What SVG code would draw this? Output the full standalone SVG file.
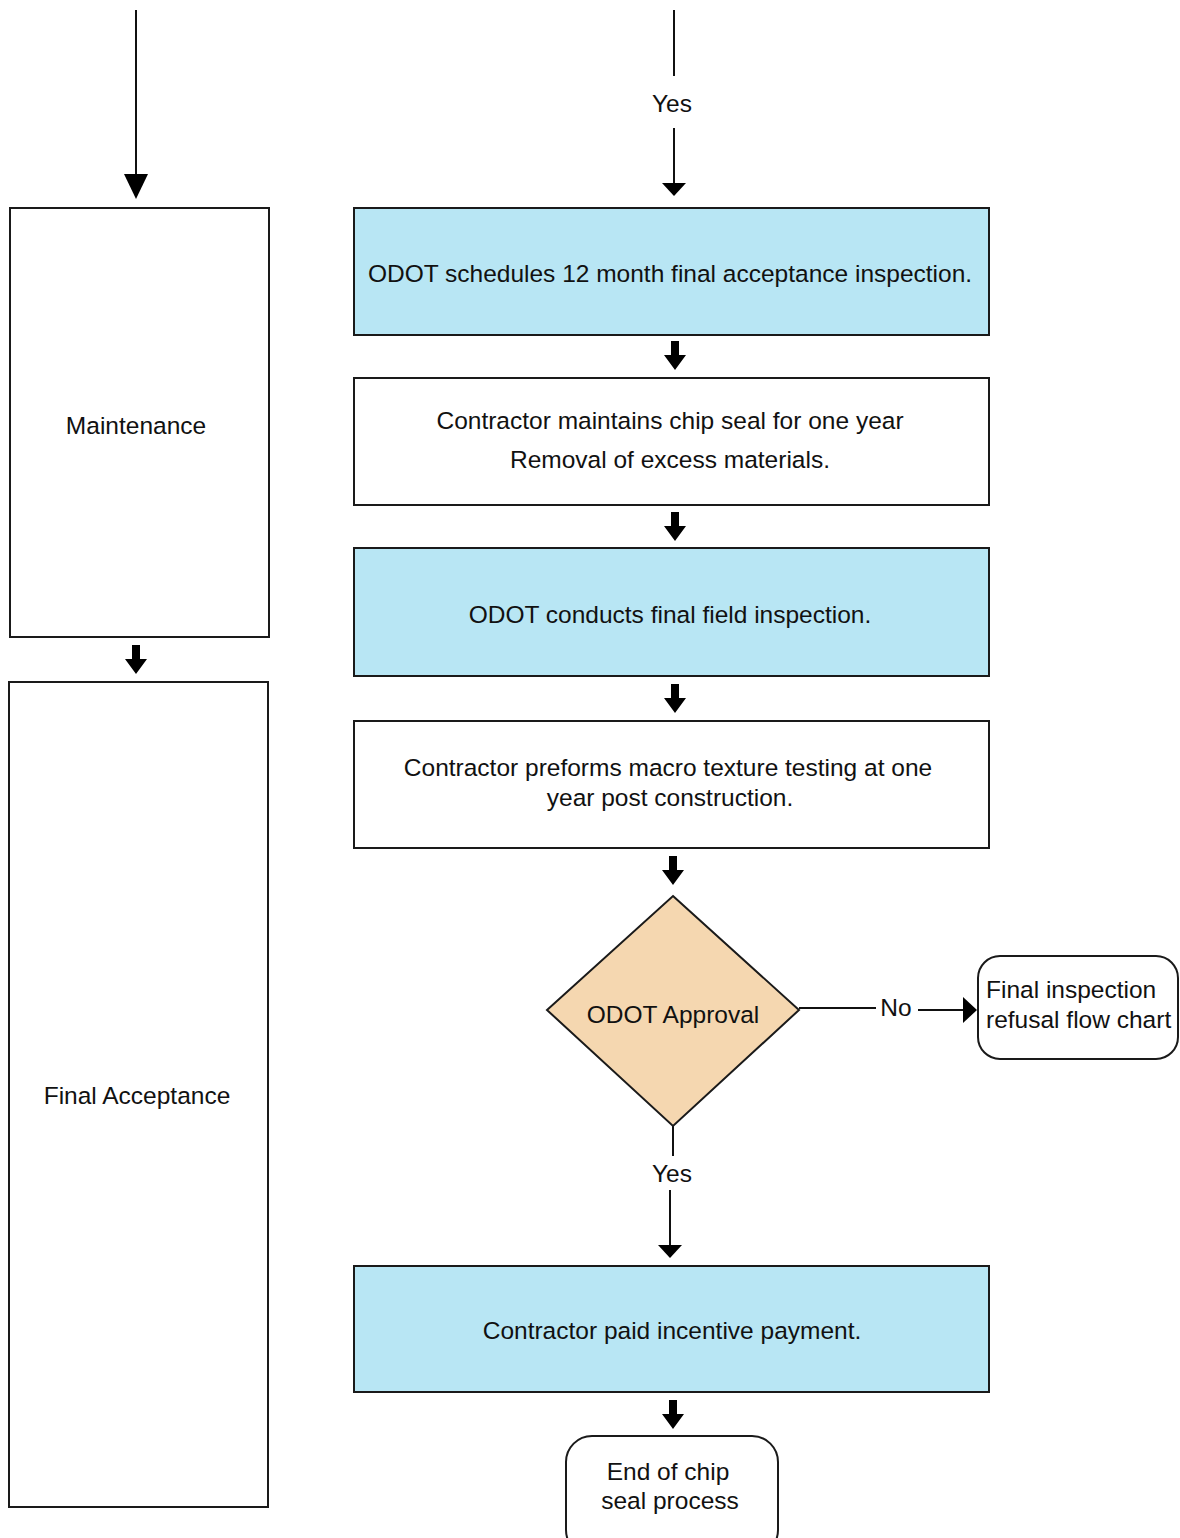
<svg xmlns="http://www.w3.org/2000/svg" width="1180" height="1538" viewBox="0 0 1180 1538">
<defs>
<style>
.box{fill:#ffffff;stroke:#1a1a1a;stroke-width:2}
.blue{fill:#b8e6f4;stroke:#1a1a1a;stroke-width:2}
.dia{fill:#f5d7b0;stroke:#1a1a1a;stroke-width:2}
.t{font-family:"Liberation Sans",Arial,sans-serif;font-size:24.5px;fill:#111;text-anchor:middle}
.tl{font-family:"Liberation Sans",Arial,sans-serif;font-size:24.5px;fill:#111;text-anchor:start}
.ln{stroke:#111;stroke-width:2;fill:none}
.ah{fill:#000}
</style>
<path id="blk" d="M-4,0 H4 V14 H11 L0,29 L-11,14 H-4 Z" class="ah"/>
</defs>
<rect width="1180" height="1538" fill="#ffffff"/>

<g id="connectors">
  <line class="ln" x1="136" y1="10" x2="136" y2="176"/>
  <path class="ah" d="M124,174 L148,174 L136,199 Z"/>
  <line class="ln" x1="674" y1="10" x2="674" y2="76"/>
  <text class="t" x="672" y="112">Yes</text>
  <line class="ln" x1="674" y1="128" x2="674" y2="185"/>
  <path class="ah" d="M662,183 L686,183 L674,196 Z"/>
  <use href="#blk" x="675" y="341"/>
  <use href="#blk" x="675" y="512"/>
  <use href="#blk" x="675" y="684"/>
  <use href="#blk" x="673" y="856"/>
  <use href="#blk" x="673" y="1400"/>
  <use href="#blk" x="136" y="645"/>
  <line class="ln" x1="799" y1="1008" x2="876" y2="1008"/>
  <text class="t" x="896" y="1016">No</text>
  <line class="ln" x1="918" y1="1010" x2="965" y2="1010"/>
  <path class="ah" d="M963,997 L977,1010 L963,1023 Z"/>
  <line class="ln" x1="673" y1="1126" x2="673" y2="1156"/>
  <text class="t" x="672" y="1182">Yes</text>
  <line class="ln" x1="670" y1="1190" x2="670" y2="1247"/>
  <path class="ah" d="M658,1245 L682,1245 L670,1258 Z"/>
</g>

<g id="maintenance">
  <rect class="box" x="10" y="208" width="259" height="429"/>
  <text class="t" x="136" y="434">Maintenance</text>
</g>
<g id="final-acceptance">
  <rect class="box" x="9" y="682" width="259" height="825"/>
  <text class="t" x="137" y="1104">Final Acceptance</text>
</g>

<g id="schedule">
  <rect class="blue" x="354" y="208" width="635" height="127"/>
  <text class="t" x="670" y="282">ODOT schedules 12 month final acceptance inspection.</text>
</g>
<g id="maintain">
  <rect class="box" x="354" y="378" width="635" height="127"/>
  <text class="t" x="670" y="429">Contractor maintains chip seal for one year</text>
  <text class="t" x="670" y="468">Removal of excess materials.</text>
</g>
<g id="inspection">
  <rect class="blue" x="354" y="548" width="635" height="128"/>
  <text class="t" x="670" y="623">ODOT conducts final field inspection.</text>
</g>
<g id="macro">
  <rect class="box" x="354" y="721" width="635" height="127"/>
  <text class="t" x="668" y="776">Contractor preforms macro texture testing at one</text>
  <text class="t" x="670" y="806">year post construction.</text>
</g>
<g id="approval">
  <polygon class="dia" points="673,896 799,1010 673,1126 547,1010"/>
  <text class="t" x="673" y="1023">ODOT Approval</text>
</g>
<g id="refusal">
  <rect class="box" x="978" y="956" width="200" height="103" rx="22"/>
  <text class="tl" x="986" y="998">Final inspection</text>
  <text class="tl" x="986" y="1028">refusal flow chart</text>
</g>
<g id="payment">
  <rect class="blue" x="354" y="1266" width="635" height="126"/>
  <text class="t" x="672" y="1339">Contractor paid incentive payment.</text>
</g>
<g id="end">
  <rect class="box" x="566" y="1436" width="212" height="120" rx="26"/>
  <text class="t" x="668" y="1480">End of chip</text>
  <text class="t" x="670" y="1509">seal process</text>
</g>
</svg>
